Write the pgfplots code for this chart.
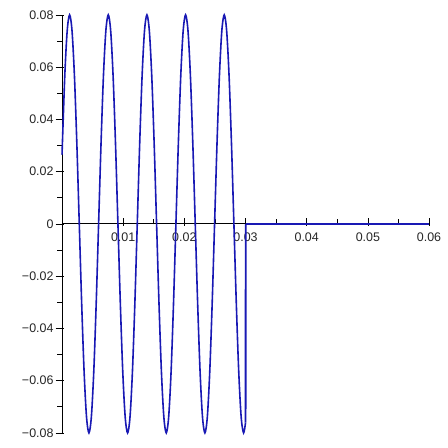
\documentclass[border=0pt]{standalone}
\usepackage{pgfplots}
\pgfplotsset{compat=1.18}
\usepackage{fontspec}
\setmainfont{Liberation Sans}
\definecolor{curveblue}{RGB}{25,25,180}
\begin{document}
\begin{tikzpicture}
\begin{axis}[
    scale only axis,
    width=367bp, height=418bp,
    xmin=0, xmax=0.06, ymin=-0.08, ymax=0.08,
    axis lines=middle,
    axis line style={-, black, line width=0.9bp},
    clip=false,
    scaled ticks=false,
    hide obscured x ticks=false,
    hide obscured y ticks=false,
    xtick={0.01,0.02,0.03,0.04,0.05,0.06},
    xticklabels={0.01,0.02,0.03,0.04,0.05,0.06},
    ytick={-0.08,-0.06,-0.04,-0.02,0,0.02,0.04,0.06,0.08},
    yticklabels={−0.08,−0.06,−0.04,−0.02,0,0.02,0.04,0.06,0.08},
    minor x tick num=1,
    minor y tick num=1,
    tick align=center,
    major tick length=8bp,
    minor tick length=5bp,
    x tick style={yshift=2bp, black, line width=0.7bp},
    y tick style={xshift=-2.5bp, black, line width=0.7bp},
    tick label style={font=\fontsize{12.5}{14}\selectfont, black!85},
    xticklabel style={anchor=north, yshift=-1bp},
    yticklabel style={anchor=east, xshift=-1bp},
]
    % sampled signal, 0 <= t <= 0.03
    \addplot[curveblue, line width=1.6bp, smooth, mark=none] coordinates {
        (0,0.0265) (0.00045,0.0566) (0.000845,0.0739) (0.00124,0.08)
        (0.001635,0.0739) (0.00203,0.0566) (0.002425,0.0306) (0.00282,0)
        (0.003215,-0.0306) (0.00361,-0.0566) (0.004005,-0.0739) (0.0044,-0.08)
        (0.004795,-0.0739) (0.00519,-0.0566) (0.005585,-0.0306) (0.00598,0)
        (0.006375,0.0306) (0.00677,0.0566) (0.007165,0.0739) (0.00756,0.08)
        (0.007955,0.0739) (0.00835,0.0566) (0.008745,0.0306) (0.00914,0)
        (0.009535,-0.0306) (0.00993,-0.0566) (0.010325,-0.0739) (0.01072,-0.08)
        (0.011115,-0.0739) (0.01151,-0.0566) (0.011905,-0.0306) (0.0123,0)
        (0.012695,0.0306) (0.01309,0.0566) (0.013485,0.0739) (0.01388,0.08)
        (0.014275,0.0739) (0.01467,0.0566) (0.015065,0.0306) (0.01546,0)
        (0.015855,-0.0306) (0.01625,-0.0566) (0.016645,-0.0739) (0.01704,-0.08)
        (0.017435,-0.0739) (0.01783,-0.0566) (0.018225,-0.0306) (0.01862,0)
        (0.019015,0.0306) (0.01941,0.0566) (0.019805,0.0739) (0.0202,0.08)
        (0.020595,0.0739) (0.02099,0.0566) (0.021385,0.0306) (0.02178,0)
        (0.022175,-0.0306) (0.02257,-0.0566) (0.022965,-0.0739) (0.02336,-0.08)
        (0.023755,-0.0739) (0.02415,-0.0566) (0.024545,-0.0306) (0.02494,0)
        (0.025335,0.0306) (0.02573,0.0566) (0.026125,0.0739) (0.02652,0.08)
        (0.026915,0.0739) (0.02731,0.0566) (0.027705,0.0306) (0.0281,0)
        (0.028495,-0.0306) (0.02889,-0.0566) (0.029285,-0.0739) (0.02968,-0.08)
        (0.03,-0.0761)
    };
    % switched off after t = 0.03
    \addplot[curveblue, line width=1.9bp, mark=none] coordinates {
        (0.03,-0.0761) (0.03002,-0.04) (0.03004,0)
    };
    \addplot[curveblue, line width=1.9bp, mark=none] coordinates {
        (0.03004,0) (0.06,0)
    };
    \path (axis cs:-0.01014,-0.0857) rectangle (axis cs:0.0631,0.0857);
\end{axis}
\end{tikzpicture}
\end{document}
